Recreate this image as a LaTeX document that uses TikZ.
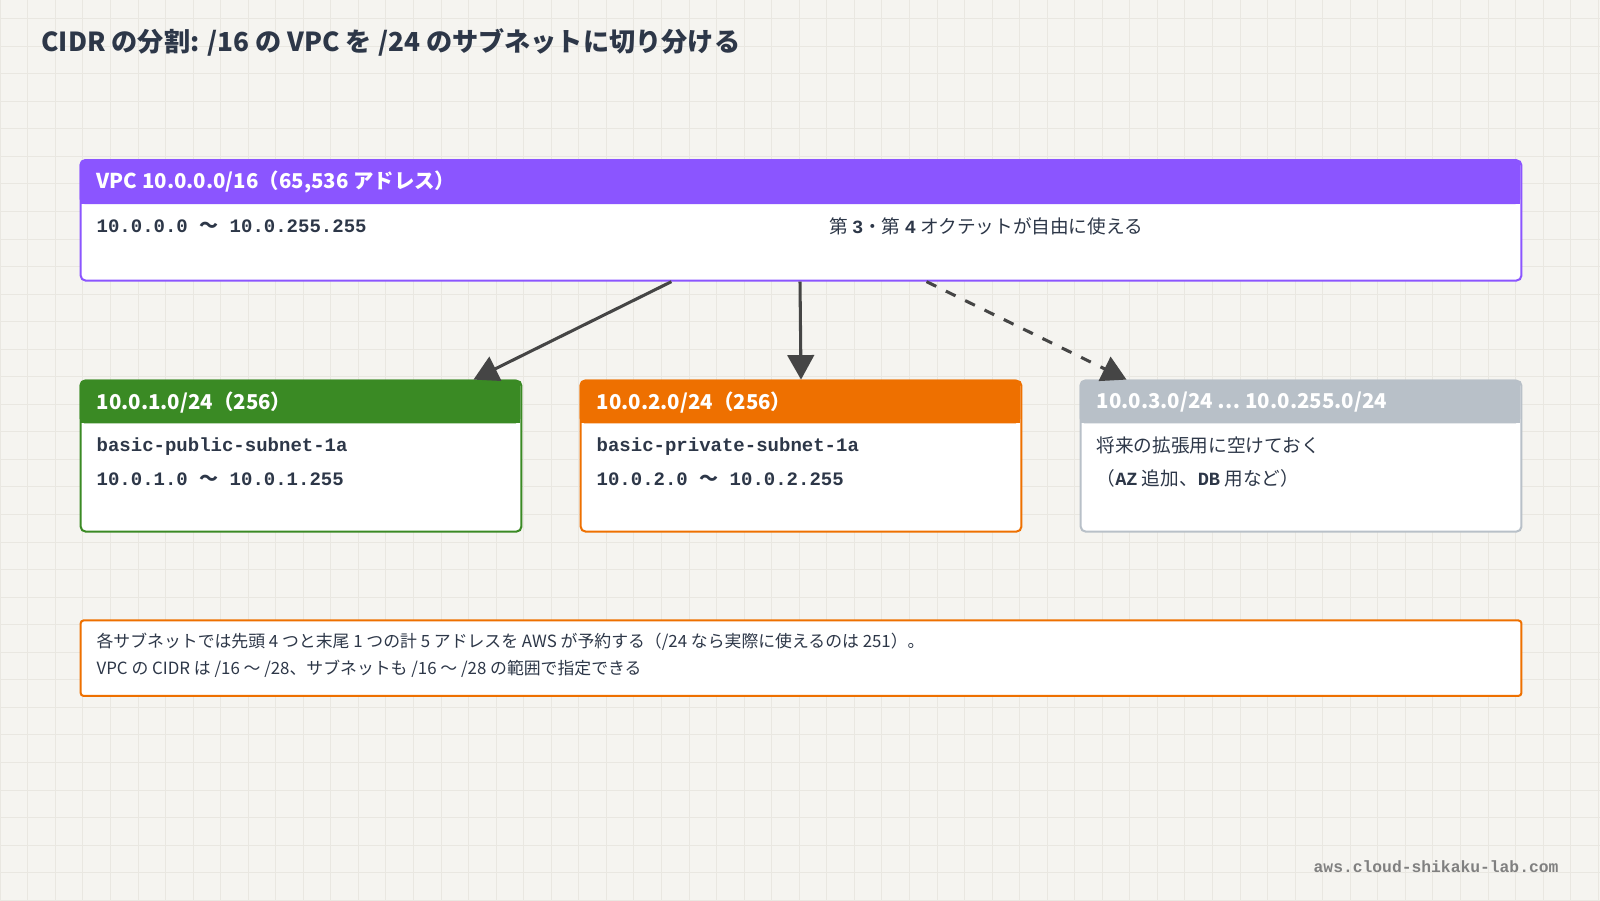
\documentclass[tikz,border=0pt]{standalone}
\usepackage{fontspec}
\setmainfont{Noto Sans CJK JP}
\newfontfamily\mono{Liberation Mono}
\usetikzlibrary{arrows.meta,calc}
\definecolor{bgpaper}{HTML}{F5F4F0}
\definecolor{gridline}{HTML}{E9E7E1}
\definecolor{inkdark}{HTML}{2D3748}
\definecolor{vpcpurple}{HTML}{8B55FF}
\definecolor{pubgreen}{HTML}{3A8A24}
\definecolor{privorange}{HTML}{EE7000}
\definecolor{spare}{HTML}{B8C0C8}
\definecolor{arrowgray}{HTML}{454545}
\newcommand{\wave}{{\normalfont\bfseries 〜}}
\begin{document}
\begin{tikzpicture}[x=1cm,y=1cm]

\tikzset{box/.style={draw=#1, line width=0.02cm, fill=white, rounded corners=0.05cm, anchor=north west, inner sep=0pt}}
\tikzset{head/.style={text=white, font=\fontsize{5.7}{6}\selectfont\bfseries, anchor=west, inner sep=0pt}}
\tikzset{body/.style={text=inkdark, font=\fontsize{5.3}{6}\selectfont\mono\bfseries, anchor=west, inner sep=0pt}}
\tikzset{jbody/.style={text=inkdark, font=\fontsize{5.2}{6}\selectfont, anchor=west, inner sep=0pt}}
\tikzset{link/.style={-{Triangle[length=0.24cm,width=0.26cm]}, draw=arrowgray, line width=0.03cm}}

%------------------------------------------------------------
	\useasboundingbox (0,0) rectangle (15.68,8.82);
	\fill[bgpaper] (0,0) rectangle (15.68,8.82);
	\draw[gridline, line width=0.005cm, step=0.27] (0,0) grid (15.68,8.82);
\begin{scope}[yshift=-0.18cm]
	\node[text=inkdark, anchor=west, inner sep=0pt, font=\fontsize{7.3}{8}\selectfont\bfseries] (title) at (0.40,8.58) {CIDR の分割: /16 の VPC を /24 のサブネットに切り分ける};

%------------------------------------------------------------
	\node[box=vpcpurple, minimum width=14.12cm, minimum height=1.18cm] (vpc) at (0.78,7.44) {};
	\fill[vpcpurple, rounded corners=0.05cm] (0.78,7.00) rectangle (14.90,7.44);
	\fill[vpcpurple] (0.78,7.00) rectangle (14.90,7.20);
	\node[head] (vpchead) at (0.94,7.22) {VPC 10.0.0.0/16（65,536 アドレス）};
	\node[body] (vpcrange) at (0.94,6.78) {10.0.0.0 \wave{} 10.0.255.255};
	\node[jbody] (vpcnote) at (8.12,6.78) {第 {\mono\bfseries 3}・第 {\mono\bfseries 4} オクテットが自由に使える};

%------------------------------------------------------------
	\node[box=pubgreen, minimum width=4.32cm, minimum height=1.48cm] (pub) at (0.78,5.28) {};
	\fill[pubgreen, rounded corners=0.05cm] (0.78,4.85) rectangle (5.10,5.28);
	\fill[pubgreen] (0.78,4.85) rectangle (5.10,5.05);
	\node[head] (pubhead) at (0.94,5.06) {10.0.1.0/24（256）};
	\node[body] (pubname) at (0.94,4.62) {basic-public-subnet-1a};
	\node[body] (pubrange) at (0.94,4.30) {10.0.1.0 \wave{} 10.0.1.255};

	\node[box=privorange, minimum width=4.32cm, minimum height=1.48cm] (priv) at (5.68,5.28) {};
	\fill[privorange, rounded corners=0.05cm] (5.68,4.85) rectangle (10.00,5.28);
	\fill[privorange] (5.68,4.85) rectangle (10.00,5.05);
	\node[head] (privhead) at (5.84,5.06) {10.0.2.0/24（256）};
	\node[body] (privname) at (5.84,4.62) {basic-private-subnet-1a};
	\node[body] (privrange) at (5.84,4.30) {10.0.2.0 \wave{} 10.0.2.255};

	\node[box=spare, minimum width=4.32cm, minimum height=1.48cm] (rest) at (10.58,5.28) {};
	\fill[spare, rounded corners=0.05cm] (10.58,4.85) rectangle (14.90,5.28);
	\fill[spare] (10.58,4.85) rectangle (14.90,5.05);
	\node[head] (resthead) at (10.74,5.06) {10.0.3.0/24 ⋯ 10.0.255.0/24};
	\node[jbody] (restuse) at (10.74,4.63) {将来の拡張用に空けておく};
	\node[jbody] (restnote) at (10.74,4.31) {（{\mono\bfseries AZ} 追加、{\mono\bfseries DB} 用など）};

	\draw[link] ($(vpc.south west)+(5.80,0)$) -- ($(pub.north east)-(0.48,0)$);
	\draw[link] ($(vpc.south west)+(7.06,0)$) -- (priv.north);
	\draw[link, dashed] ($(vpc.south west)+(8.30,0)$) -- ($(rest.north west)+(0.46,0)$);

%------------------------------------------------------------
	\node[box=privorange, rounded corners=0.03cm, minimum width=14.12cm, minimum height=0.74cm] (note) at (0.78,2.93) {};
	\node[jbody, font=\fontsize{4.7}{5}\selectfont] (note1) at (0.94,2.71) {各サブネットでは先頭 4 つと末尾 1 つの計 5 アドレスを AWS が予約する（/24 なら実際に使えるのは 251）。};
	\node[jbody, font=\fontsize{4.7}{5}\selectfont] (note2) at (0.94,2.45) {VPC の CIDR は /16 〜 /28、サブネットも /16 〜 /28 の範囲で指定できる};

	\node[text=gray, anchor=east, inner sep=0pt, font=\fontsize{4.55}{5}\selectfont\mono\bfseries] (site) at (15.28,0.51) {aws.cloud-shikaku-lab.com};
\end{scope}

\end{tikzpicture}
\end{document}
